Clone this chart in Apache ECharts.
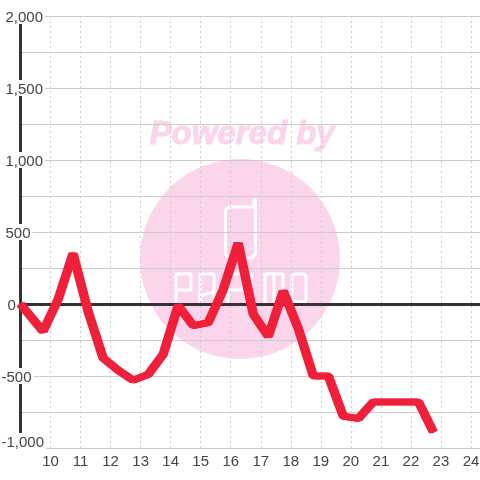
<!DOCTYPE html>
<html><head><meta charset="utf-8">
<style>html,body{margin:0;padding:0;background:#fff}#c{width:480px;height:480px}</style>
<script src="https://cdn.jsdelivr.net/npm/echarts@6/dist/echarts.min.js"></script></head>
<body><div id="c"></div>
<script>
const hours = [9,9.75,10.25,10.75,11.25,11.75,12.25,12.75,13.25,13.75,14.25,14.75,15.25,15.75,16.25,16.75,17.25,17.75,18.25,18.75,19.25,19.75,20.25,20.75,21.25,21.75,22.25,22.75];
const values = [0,-190,30,350,-50,-375,-460,-530,-490,-350,-10,-150,-130,100,423,-70,-225,90,-170,-500,-500,-780,-795,-680,-680,-680,-680,-890];
const pairs = hours.map((h,i)=>[h,values[i]]);
const chart = echarts.init(document.getElementById('c'),null,{renderer:'canvas'});
const pink='#fbd5ec';
const red='#f01f3a';
const fmt=v=>v.toLocaleString('en-US');
const logoStroke={stroke:'#fff',lineWidth:3,fill:null,lineCap:'round',lineJoin:'round'};
const poly=pts=>({type:'polyline',z:-4,shape:{points:pts},style:logoStroke});
const base={color:'#444',fontSize:15,fontFamily:'Liberation Sans',backgroundColor:'#fff',height:13};
const penSide=dx=>({
  type:'line',xAxisIndex:0,data:pairs,showSymbol:false,symbol:'none',z:3,
  lineStyle:{color:red,width:6.5,cap:'butt',join:'bevel',shadowColor:red,shadowBlur:0,shadowOffsetX:dx,shadowOffsetY:0}
});
chart.setOption({
 animation:false,
 backgroundColor:'#fff',
 graphic:[
  {type:'text',z:-5,left:149,top:118,style:{text:'Powered by',fill:pink,stroke:pink,lineWidth:1,font:'italic bold 33px "Liberation Sans"'}},
  {type:'circle',z:-5,shape:{cx:240,cy:259,r:100},style:{fill:pink}},
  poly([[254,200],[255.5,200],[255.5,254],[252,258],[229,258],[225.5,254],[225.5,210],[229,207],[254,207],[254,200]]),
  poly([[176,302],[176,274],[191,274],[191,290],[176,290]]),
  poly([[200,302],[200,274],[214,274],[214,302]]),
  poly([[199,296],[214,292]]),
  poly([[228,302],[228,274],[243,274],[243,290],[228,290]]),
  poly([[251,274],[251,302]]),
  poly([[265,302],[265,274],[283,274],[283,302]]),
  poly([[274,274],[274,302]]),
  poly([[292,276],[294,274],[304,274],[306,276],[306,300],[304,302],[294,302],[292,300],[292,276]])
 ],
 grid:{left:20.5,right:0,top:16,bottom:32,outerBoundsMode:'none'},
 xAxis:[{
  type:'value',min:9,max:24.3,interval:1,position:'bottom',
  axisLine:{onZero:false,show:true,lineStyle:{color:'#ccc',width:1}},
  axisTick:{show:false},
  axisLabel:{color:'#444',fontSize:15,fontFamily:'Liberation Sans',margin:6,showMinLabel:false,showMaxLabel:false},
  splitLine:{show:true,lineStyle:{color:'#ccc',width:1,type:[2,3]}}
 },{
  type:'value',min:9,max:24.3,
  axisLine:{onZero:true,show:true,lineStyle:{color:'#333',width:3}},
  axisTick:{show:false},axisLabel:{show:false},splitLine:{show:false}
 }],
 yAxis:{
  type:'value',min:-1000,max:2000,interval:250,
  axisLine:{show:true,onZero:false,lineStyle:{color:'#333',width:3}},
  axisTick:{show:false},
  axisLabel:{
   align:'left',margin:19,showMinLabel:true,showMaxLabel:true,hideOverlap:false,
   color:'#444',fontSize:15,fontFamily:'Liberation Sans',
   formatter:v=>{
     if(v%500!==0) return '';
     const tag=v===-1000?'b':v<0?'n':v===0?'z':'p';
     return '{'+tag+'|'+fmt(v)+'}';
   },
   rich:{
    b:{...base,padding:[3,2,14,0]},
    n:{...base,padding:[3,2,0,0]},
    z:{...base,padding:[3,2,0,6]},
    p:{...base,padding:[3,2,0,4]}
   }
  },
  splitLine:{show:true,lineStyle:{color:'#ccc',width:1}}
 },
 series:[penSide(-1.5),penSide(1.5)]
});
</script></body></html>
